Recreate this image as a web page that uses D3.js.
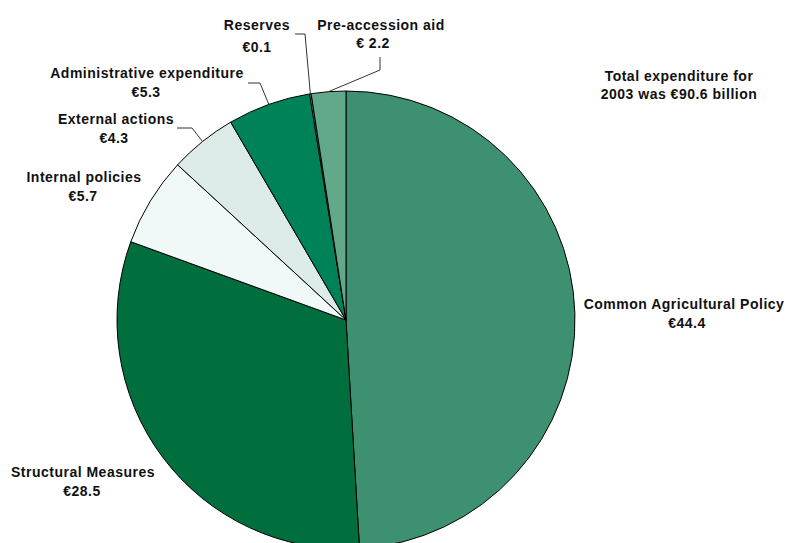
<!DOCTYPE html>
<html>
<head>
<meta charset="utf-8">
<script src="https://cdn.jsdelivr.net/npm/d3@7"></script>
<style>
  html, body { margin: 0; padding: 0; background: #fff; }
  svg { display: block; font-family: "Liberation Sans", Arial, sans-serif; }
</style>
</head>
<body>
<svg id="chart"></svg>
<script>
// EU budget 2003, billion euro
const categories = ['Common Agricultural Policy', 'Structural Measures', 'Internal policies',
    'External actions', 'Administrative expenditure', 'Reserves', 'Pre-accession aid'];
const values = [44.4, 28.5, 5.7, 4.3, 5.3, 0.1, 2.2];
const valueLabels = ['€44.4', '€28.5', '€5.7', '€4.3', '€5.3', '€0.1', '€ 2.2'];
const colors = ['#3d9170', '#006f3d', '#f0f9f7', '#dcebe7', '#008259', '#62a88a', '#62a88a'];
const note = ['Total expenditure for', '2003 was €90.6 billion'];

// label layout: text centre and baselines, plus elbow for leader line
const labelLayout = [
    { x: 684, y: 309, vx: 687 },
    { x: 83, y: 477, vx: 82 },
    { x: 84, y: 182, vx: 83 },
    { x: 116, y: 124, vx: 114, elbow: [[192, 128], [177, 128]] },
    { x: 147, y: 78, vx: 146, elbow: [[260, 83], [248, 83]] },
    { x: 257, y: 30, vx: 257, vy: 52, elbow: [[305, 34], [295, 34]] },
    { x: 381, y: 30, vx: 373, vy: 48, elbow: [[380, 70], [380, 57]] }
];

const width = 788, height = 543;
const cx = 346, cy = 320, radius = 229;
const fontSize = '14px', spacing = '0.5px';

const svg = d3.select('#chart').attr('width', width).attr('height', height);

const data = categories.map((c, i) => ({ name: c, value: values[i], i }));
const pie = d3.pie().value(d => d.value).sort(null);
const arc = d3.arc().innerRadius(0).outerRadius(radius);
const arcs = pie(data);

const g = svg.append('g').attr('transform', `translate(${cx},${cy})`);

g.selectAll('path')
    .data(arcs)
    .enter()
    .append('path')
    .attr('d', arc)
    .attr('fill', d => colors[d.data.i])
    .attr('stroke', '#000')
    .attr('stroke-width', 1)
    .attr('stroke-linejoin', 'round');

// Leader lines
arcs.forEach(a => {
    const lay = labelLayout[a.data.i];
    if (!lay.elbow) return;
    const mid = (a.startAngle + a.endAngle) / 2;
    const px = cx + radius * Math.sin(mid);
    const py = cy - radius * Math.cos(mid);
    svg.append('path')
        .attr('d', d3.line()([[px, py], ...lay.elbow]))
        .attr('fill', 'none')
        .attr('stroke', '#333')
        .attr('stroke-width', 1);
});

const addText = (x, y, t) => svg.append('text')
    .attr('x', x).attr('y', y)
    .attr('text-anchor', 'middle')
    .attr('font-size', fontSize).attr('font-weight', 'bold')
    .attr('letter-spacing', spacing).attr('fill', '#111')
    .text(t);

// Labels
labelLayout.forEach((lay, i) => {
    addText(lay.x, lay.y, categories[i]);
    addText(lay.vx, lay.vy || lay.y + 19, valueLabels[i]);
});

// Total note
note.forEach((t, i) => addText(679, 81 + i * 18, t));
</script>
</body>
</html>
